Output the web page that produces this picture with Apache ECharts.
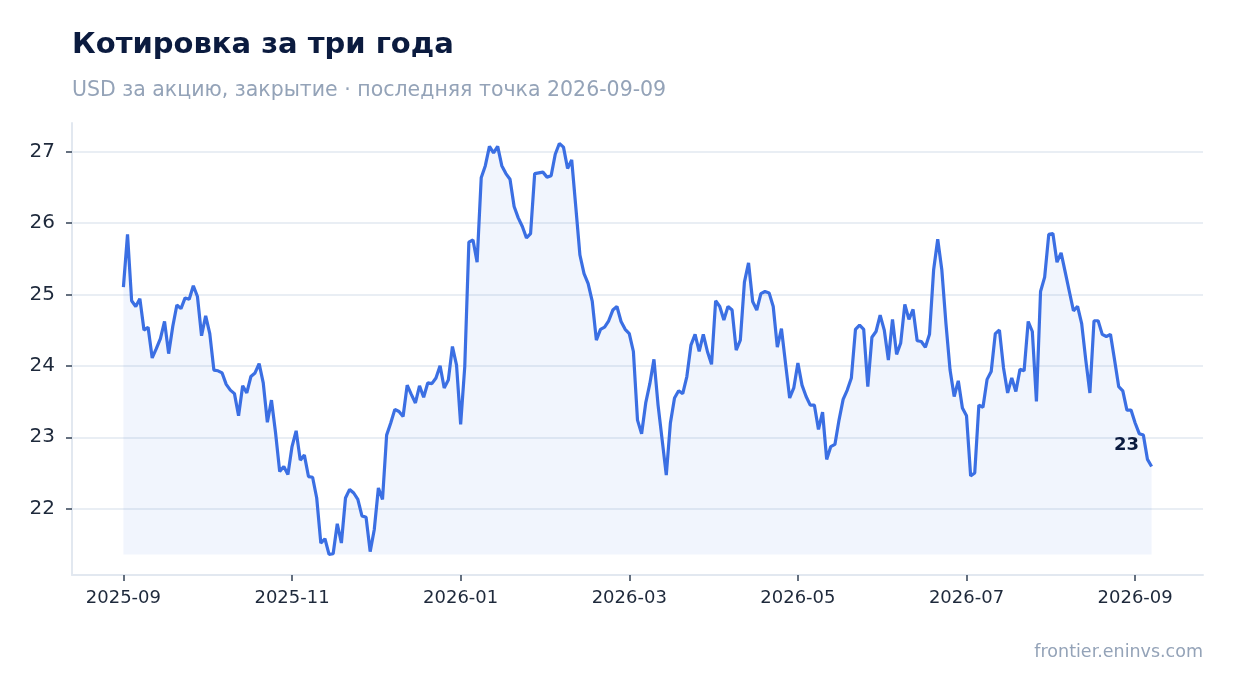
<!DOCTYPE html>
<html>
<head>
<meta charset="utf-8">
<script src="https://cdn.jsdelivr.net/npm/echarts@6/dist/echarts.min.js"></script>
<style>
  html, body { margin: 0; padding: 0; background: #fff; }
  #chart { width: 1234px; height: 693px; }
</style>
</head>
<body>
<div id="chart"></div>
<script>
// подписи оси X и их позиции (номер точки)
const tickLabels = ['2025-09', '2025-11', '2026-01', '2026-03', '2026-05', '2026-07', '2026-09'];
const tickIndex = [0, 41, 82, 123, 164, 205, 246];
const yTicks = [22, 23, 24, 25, 26, 27];

// цена закрытия, USD
const prices = [
  25.10, 25.84, 24.91, 24.83, 24.94, 24.50, 24.54, 24.11, 24.24, 24.38,
  24.62, 24.17, 24.55, 24.85, 24.80, 24.95, 24.93, 25.12, 24.97, 24.42,
  24.70, 24.45, 23.94, 23.93, 23.90, 23.74, 23.66, 23.61, 23.30, 23.72,
  23.62, 23.85, 23.90, 24.03, 23.76, 23.21, 23.52, 23.06, 22.52, 22.59,
  22.48, 22.87, 23.09, 22.68, 22.75, 22.45, 22.44, 22.15, 21.52, 21.58,
  21.36, 21.37, 21.79, 21.52, 22.15, 22.27, 22.22, 22.13, 21.90, 21.88,
  21.40, 21.71, 22.29, 22.13, 23.03, 23.20, 23.39, 23.36, 23.29, 23.73,
  23.60, 23.48, 23.72, 23.56, 23.76, 23.75, 23.83, 24.00, 23.69, 23.80,
  24.27, 24.01, 23.18, 23.99, 25.73, 25.76, 25.45, 26.63, 26.80, 27.07,
  26.98, 27.07, 26.80, 26.69, 26.61, 26.23, 26.07, 25.95, 25.79, 25.85,
  26.69, 26.70, 26.71, 26.64, 26.66, 26.96, 27.11, 27.06, 26.76, 26.88,
  26.22, 25.55, 25.29, 25.15, 24.90, 24.36, 24.51, 24.54, 24.63, 24.78,
  24.83, 24.62, 24.51, 24.45, 24.20, 23.24, 23.05, 23.48, 23.75, 24.09,
  23.45, 22.96, 22.47, 23.20, 23.55, 23.65, 23.61, 23.85, 24.29, 24.44,
  24.20, 24.44, 24.20, 24.02, 24.91, 24.83, 24.64, 24.83, 24.78, 24.22,
  24.36, 25.17, 25.44, 24.90, 24.78, 25.01, 25.04, 25.02, 24.83, 24.26,
  24.52, 24.03, 23.55, 23.69, 24.04, 23.73, 23.57, 23.45, 23.45, 23.11,
  23.35, 22.69, 22.87, 22.90, 23.24, 23.53, 23.66, 23.83, 24.51, 24.57,
  24.51, 23.71, 24.40, 24.48, 24.71, 24.50, 24.08, 24.65, 24.16, 24.32,
  24.86, 24.65, 24.79, 24.35, 24.34, 24.26, 24.44, 25.34, 25.77, 25.34,
  24.59, 23.94, 23.57, 23.79, 23.41, 23.30, 22.46, 22.50, 23.45, 23.42,
  23.81, 23.92, 24.45, 24.50, 23.97, 23.62, 23.83, 23.64, 23.95, 23.93,
  24.62, 24.48, 23.50, 25.04, 25.24, 25.84, 25.85, 25.45, 25.58, 25.31,
  25.04, 24.77, 24.83, 24.59, 24.08, 23.62, 24.63, 24.63, 24.44, 24.41,
  24.44, 24.08, 23.71, 23.65, 23.38, 23.38, 23.20, 23.05, 23.03, 22.69,
  22.59
];

const last = prices.length - 1;
const minPrice = Math.min(...prices);

const chart = echarts.init(document.getElementById('chart'));
chart.setOption({
  backgroundColor: '#ffffff',
  animation: false,
  textStyle: { fontFamily: 'DejaVu Sans' },
  title: [
    {
      text: 'Котировка за три года',
      subtext: 'USD за акцию, закрытие · последняя точка 2026-09-09',
      left: 72,
      top: 31,
      padding: 0,
      itemGap: 20,
      textStyle: { fontSize: 29, fontWeight: 'bold', color: '#0b1b3f' },
      subtextStyle: { fontSize: 20.5, color: '#94a3b8' }
    },
    {
      text: 'frontier.eninvs.com',
      right: 31,
      bottom: 32,
      padding: 0,
      textStyle: { fontSize: 17.5, fontWeight: 'normal', color: '#94a3b8' }
    }
  ],
  grid: { left: 72, right: 31, top: 123, bottom: 118 },
  xAxis: {
    type: 'value',
    min: v => v.min - (v.max - v.min) * 0.05,
    max: v => v.max + (v.max - v.min) * 0.05,
    axisLine: { show: true, onZero: false, lineStyle: { color: '#e2e8f0', width: 2 } },
    axisTick: { show: true, customValues: tickIndex, length: 6, lineStyle: { color: '#334155', width: 1.5 } },
    axisLabel: {
      customValues: tickIndex,
      margin: 14,
      fontSize: 18,
      color: '#1e293b',
      formatter: v => tickLabels[tickIndex.indexOf(v)] || ''
    },
    splitLine: { show: false }
  },
  yAxis: {
    type: 'value',
    min: v => v.min - (v.max - v.min) * 0.05,
    max: v => v.max + (v.max - v.min) * 0.05,
    axisLine: { show: true, onZero: false, lineStyle: { color: '#e2e8f0', width: 2 } },
    axisTick: { show: true, customValues: yTicks, length: 6, lineStyle: { color: '#334155', width: 1.5 } },
    axisLabel: { customValues: yTicks, margin: 17, fontSize: 20, color: '#1e293b' },
    splitLine: { show: true, lineStyle: { color: '#e2e8f0', width: 1.5 } }
  },
  series: [
    {
      type: 'line',
      data: prices.map((v, i) => [i, v]),
      showSymbol: false,
      symbol: 'none',
      lineStyle: { color: '#3b6fe3', width: 3.2 },
      itemStyle: { color: '#3b6fe3' },
      areaStyle: { color: 'rgba(59, 111, 227, 0.1)', origin: minPrice },
      markPoint: {
        symbol: 'circle',
        symbolSize: 0,
        silent: true,
        label: {
          show: true,
          position: 'inside',
          offset: [-25, -21],
          formatter: p => p.value,
          color: '#0b1b3f',
          fontSize: 18,
          fontWeight: 'bold'
        },
        data: [{ coord: [last, prices[last]], value: prices[last].toFixed(0) }]
      },
      z: 3
    }
  ]
});
</script>
</body>
</html>
